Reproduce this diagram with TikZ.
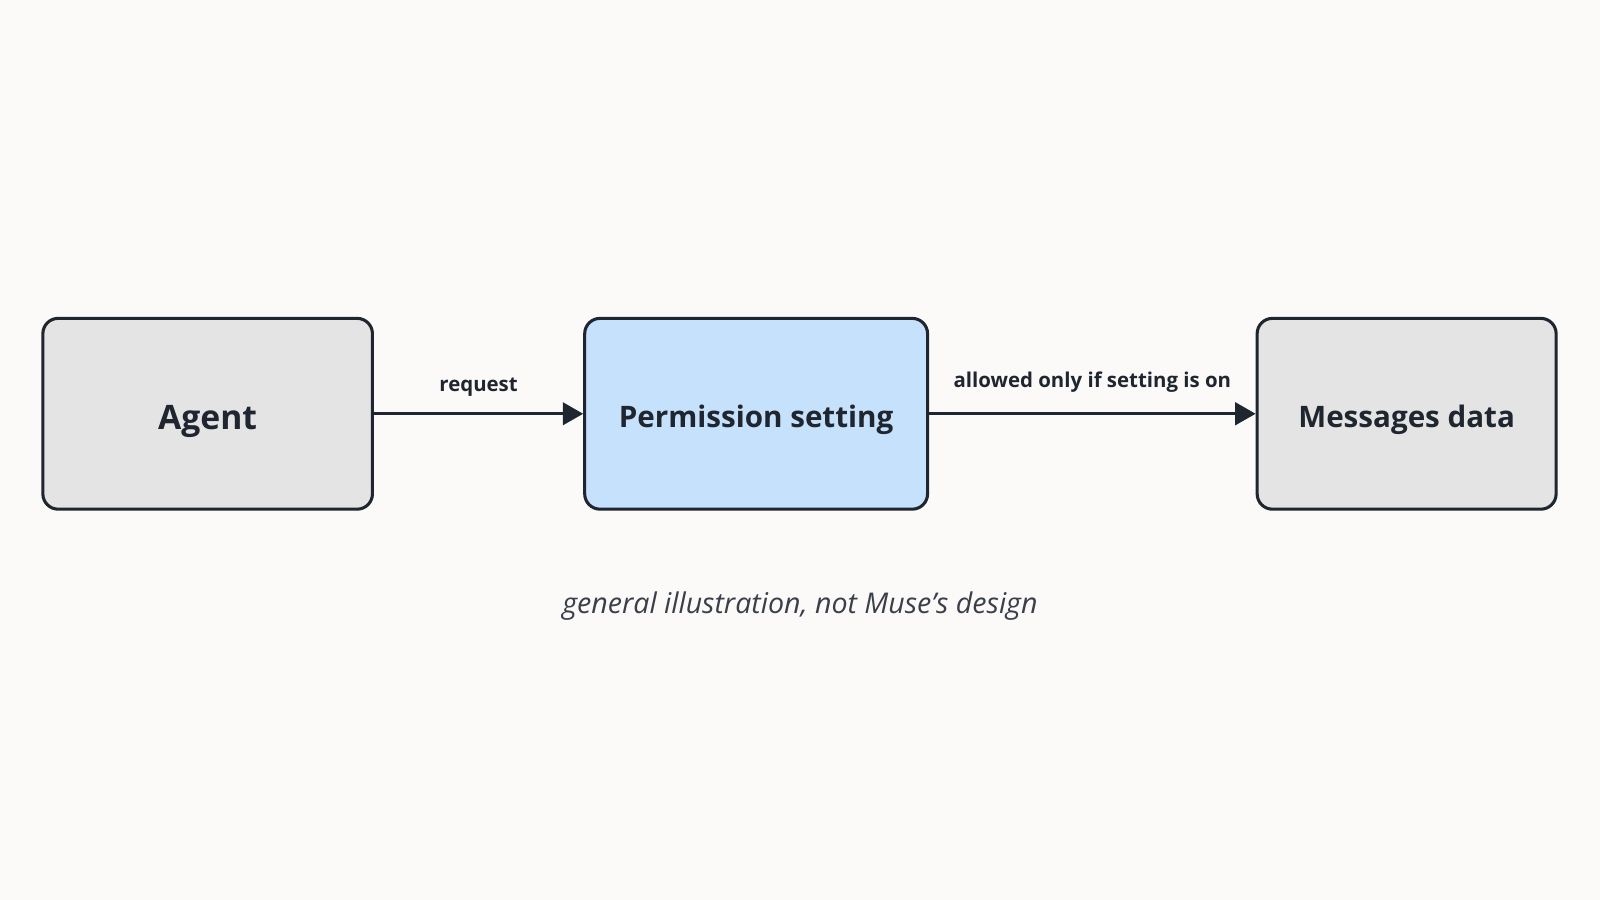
\documentclass[tikz,border=0pt]{standalone}
\usepackage{fontspec}
\setmainfont{Open Sans}
\usetikzlibrary{arrows.meta}
\definecolor{bg}{HTML}{FBFAF8}
\definecolor{ink}{HTML}{1F2630}
\definecolor{boxgray}{HTML}{E4E4E4}
\definecolor{boxblue}{HTML}{C5E1FB}
\definecolor{cap}{HTML}{3A3F4A}
\begin{document}
\begin{tikzpicture}[x=1pt,y=-1pt,
  box/.style={draw=ink,line width=3pt,rounded corners=15pt,fill=boxgray,font=\fontsize{29}{34}\selectfont\bfseries,text=ink,text depth=0pt,text height=26pt},
  conn/.style={draw=ink,line width=3pt,-{Triangle[length=20pt,width=22pt]}},
  lbl/.style={font=\fontsize{20}{24}\selectfont\bfseries,text=ink}]
\fill[bg] (0,0) rectangle (1568,882);
\useasboundingbox (0,0) rectangle (1568,882);
\node[box,minimum width=323pt,minimum height=187pt,font=\fontsize{33}{40}\selectfont\bfseries,text height=30pt] (agent) at (203.5,405.5) {Agent};
\node[box,fill=boxblue,minimum width=336pt,minimum height=187pt] (perm) at (741,405.5) {Permission setting};
\node[box,minimum width=293pt,minimum height=187pt] (msg) at (1378.5,405.5) {Messages data};
\draw[conn] (agent) -- (perm) node[midway,above=12pt,lbl] {request};
\draw[conn] (perm) -- (msg) node[midway,above=16pt,lbl] {allowed only if setting is on};
\node[font=\fontsize{28}{34}\selectfont\itshape,text=cap] (caption) at (784,594) {general illustration, not Muse's design};
\end{tikzpicture}
\end{document}
